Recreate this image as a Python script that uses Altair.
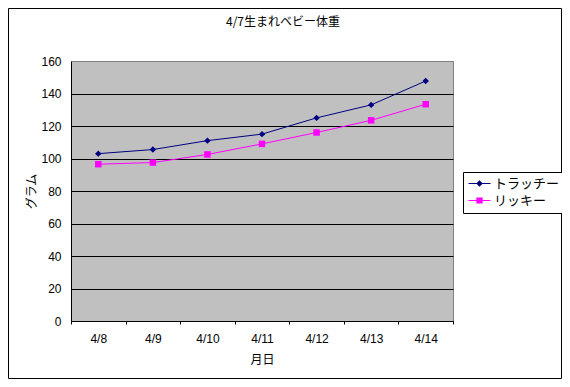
import altair as alt
import pandas as pd

dates = ["4/8", "4/9", "4/10", "4/11", "4/12", "4/13", "4/14"]
series_names = ["トラッチー", "リッキー"]
trachy = [103, 105.5, 111, 115, 125, 133, 147.7]
ricky = [96.5, 97.5, 102.5, 109, 116, 123.5, 133.4]
colors = ["#000080", "#FF00FF"]
shapes = ["diamond", "square"]
# legend glyphs: a 1px line with the series marker in its middle (filled paths)
legend_shapes = [
    "M-1.83,-0.08H1.83V0.08H-1.83ZM0,-0.55L0.55,0L0,0.55L-0.55,0Z",
    "M-1.83,-0.08H1.83V0.08H-1.83ZM-0.52,-0.52H0.52V0.52H-0.52Z",
]
y_ticks = [0, 20, 40, 60, 80, 100, 120, 140, 160]

rows = []
for name, vals in zip(series_names, [trachy, ricky]):
    for d, v in zip(dates, vals):
        rows.append({"date": d, "series": name, "value": v})
df = pd.DataFrame(rows)

JP = "Noto Sans CJK JP"
NUM = "Liberation Sans"

x_enc = alt.X(
    "date:N",
    sort=dates,
    bandPosition=0.5,
    scale=alt.Scale(type="band", paddingInner=0, paddingOuter=0),
    axis=alt.Axis(
        title="月日",
        titleFont=JP,
        titleFontSize=12,
        titleFontWeight="normal",
        titleColor="black",
        titlePadding=10,
        labelFont=NUM,
        labelFontSize=12,
        labelColor="black",
        labelAngle=0,
        labelPadding=9,
        tickBand="extent",
        tickSize=3,
        tickColor="black",
        domainColor="black",
        grid=False,
    ),
)
y_enc = alt.Y(
    "value:Q",
    scale=alt.Scale(domain=[0, 160], nice=False),
    axis=alt.Axis(
        values=y_ticks,
        title="グラム",
        titleFont=JP,
        titleFontSize=12,
        titleFontWeight="normal",
        titleColor="black",
        titlePadding=2,
        labelFont=NUM,
        labelFontSize=12,
        labelColor="black",
        labelPadding=10,
        ticks=False,
        domainColor="black",
        grid=True,
        gridColor={"condition": {"test": "datum.value === 160", "value": "#808080"}, "value": "black"},
        gridWidth=1,
    ),
)

layers = []
for name, col, shp in zip(series_names, colors, shapes):
    base = alt.Chart(df).transform_filter(alt.datum.series == name)
    layers.append(base.mark_line(color=col, strokeWidth=1).encode(x=x_enc, y=y_enc))
    layers.append(
        base.mark_point(shape=shp, filled=True, color=col, size=42, opacity=1).encode(x=x_enc, y=y_enc)
    )

leg = alt.Legend(
    title=None,
    orient="none",
    legendX=392,
    legendY=111,
    strokeColor="black",
    fillColor="white",
    padding=5,
    labelFont=JP,
    labelFontSize=13,
    labelColor="black",
    labelOffset=8,
    symbolSize=144,
    symbolOffset=5,
    symbolStrokeWidth=0,
    rowPadding=3,
)
legend_layer = (
    alt.Chart(df)
    .transform_filter("false")
    .mark_point(filled=True, opacity=1, strokeWidth=0)
    .encode(
        x=x_enc,
        y=y_enc,
        fill=alt.Fill("series:N", scale=alt.Scale(domain=series_names, range=colors), legend=leg),
        shape=alt.Shape("series:N", scale=alt.Scale(domain=series_names, range=legend_shapes), legend=leg),
    )
)
layers.append(legend_layer)

frame = (
    alt.Chart(pd.DataFrame({"a": [0]}))
    .mark_rect(fillOpacity=0, stroke="black", strokeWidth=1)
    .encode(x=alt.value(-62.5), x2=alt.value(490.5), y=alt.value(-52.5), y2=alt.value(317.5))
)
layers.append(frame)

chart = (
    alt.layer(*layers)
    .properties(
        width=382,
        height=260,
        autosize=alt.AutoSizeParams(type="none"),
        padding={"left": 63, "top": 53, "right": 109, "bottom": 58},
        background="white",
        title=alt.TitleParams(
            "4/7生まれベビー体重",
            font=JP,
            fontSize=12,
            fontWeight="normal",
            color="black",
            anchor="middle",
            frame="group",
            dx=21,
            dy=21,
            offset=0,
        ),
    )
    .configure_view(fill="#C0C0C0", stroke="#808080", strokeWidth=1)
)

chart.save("out.html", embed_options={"renderer": "svg", "actions": False})
